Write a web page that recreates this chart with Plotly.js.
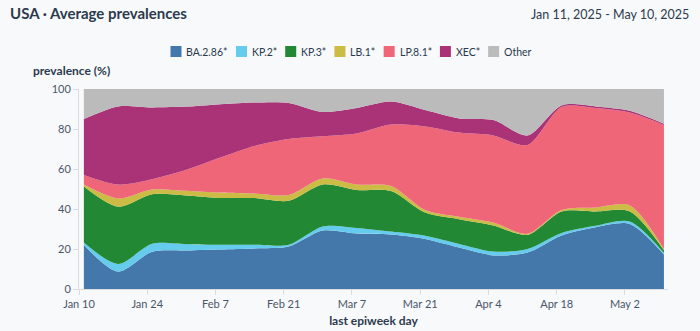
<!DOCTYPE html>
<html><head><meta charset="utf-8">
<script src="https://cdn.plot.ly/plotly-3.0.1.min.js"></script>
<style>html,body{margin:0;padding:0;background:#f7f9fb;}#chart{width:700px;height:331px;}</style>
</head><body><div id="chart"></div>
<script>
// ---- data ----
const dates = ['2025-01-11','2025-01-18','2025-01-25','2025-02-01','2025-02-08','2025-02-15','2025-02-22','2025-03-01','2025-03-08','2025-03-15','2025-03-22','2025-03-29','2025-04-05','2025-04-12','2025-04-19','2025-04-26','2025-05-03','2025-05-10'];
const seriesNames = ['BA.2.86*','KP.2*','KP.3*','LB.1*','LP.8.1*','XEC*','Other'];
const ba286 = [22, 8.7, 18.6, 19.3, 19.8, 20.3, 21.2, 29.2, 27.7, 27.2, 25, 20.7, 16.8, 18.2, 26.8, 30.9, 32.5, 17.2];
const kp2   = [1.2, 3.8, 4.0, 3.1, 2.3, 1.8, 0.9, 2.1, 2.8, 1.5, 1.6, 1.8, 1.9, 1.8, 1.2, 0.7, 1.2, 0.8];
const kp3   = [28.1, 28.7, 24.8, 24.4, 23.4, 23.4, 22.0, 21.0, 19.0, 20.3, 11.6, 12.4, 13.1, 7.1, 10.8, 7.2, 5.1, 1.4];
const lb1   = [0.9, 4.1, 2.4, 2.3, 2.7, 2.2, 2.9, 3.0, 2.7, 2.5, 1.3, 1.2, 1.4, 0.5, 0.7, 2.0, 3.0, 0.6];
const lp81  = [4.8, 6.9, 5.1, 10.5, 17.5, 23.8, 28.0, 21.1, 25.6, 30.7, 41.8, 42.1, 43.6, 44.4, 51.5, 49.7, 46.4, 62];
const xec   = [28, 39.1, 35.9, 31.6, 26.7, 21.7, 18, 12.1, 12.7, 11.5, 8.2, 7.1, 7.7, 4.8, 0.8, 0.8, 0.9, 0.6];
const other = [15, 8.7, 9.2, 8.8, 7.6, 6.8, 7, 11.5, 9.5, 6.3, 10.5, 14.7, 15.5, 23.2, 8.2, 8.7, 10.9, 17.4];
const tickDates  = ['2025-01-10','2025-01-24','2025-02-07','2025-02-21','2025-03-07','2025-03-21','2025-04-04','2025-04-18','2025-05-02'];
const tickLabels = ['Jan 10','Jan 24','Feb 7','Feb 21','Mar 7','Mar 21','Apr 4','Apr 18','May 2'];
const yTicks = [0, 20, 40, 60, 80, 100];

// ---- styling ----
const seriesValues = [ba286, kp2, kp3, lb1, lp81, xec, other];
const colors = ['#4477AA','#66CCEE','#228833','#CCBB44','#EE6677','#AA3377','#BBBBBB'];
const FONT = 'Lato, "DejaVu Sans", sans-serif';
const TXT = '#2d3a4d';

const traces = seriesNames.map((n, i) => ({
  type: 'scatter', mode: 'lines', name: n, x: dates, y: seriesValues[i],
  stackgroup: 'one', line: {width: 0, shape: 'spline', smoothing: 0.8, color: colors[i]},
  fillcolor: colors[i], hoverinfo: 'x+y+name'
}));

// plot area in pixels
const L = 79, R = 668, T = 89, B = 289;
const px = v => (v - L) / (R - L);
const py = v => (B - v) / (B - T);

// legend built manually
const LEGSIZE = 10.5;
const ctx = document.createElement('canvas').getContext('2d');
ctx.font = LEGSIZE + 'px Lato';
const sw = 11, gapSwText = 3, gapItem = 10;
const widths = seriesNames.map(n => sw + gapSwText + ctx.measureText(n).width);
const total = widths.reduce((a, b) => a + b, 0) + gapItem * (seriesNames.length - 1);
let cx = 350 - total / 2;
const shapes = [], annotations = [];
const legY = 51.5;
seriesNames.forEach((n, i) => {
  shapes.push({type: 'rect', xref: 'paper', yref: 'paper', x0: px(cx), x1: px(cx + sw), y0: py(legY + sw / 2), y1: py(legY - sw / 2), fillcolor: colors[i], line: {width: 0}});
  annotations.push({xref: 'paper', yref: 'paper', x: px(cx + sw + gapSwText), y: py(legY), xanchor: 'left', yanchor: 'middle', text: n, showarrow: false, font: {family: FONT, size: LEGSIZE, color: TXT}});
  cx += widths[i] + gapItem;
});
annotations.push({xref: 'paper', yref: 'paper', x: px(71), y: py(71), xanchor: 'center', yanchor: 'middle', text: 'prevalence (%)', showarrow: false, font: {family: FONT, size: 12, color: TXT, weight: 700}});
annotations.push({xref: 'paper', yref: 'paper', x: px(691), y: py(14), xanchor: 'right', yanchor: 'middle', text: 'Jan 11, 2025 - May 10, 2025', showarrow: false, font: {family: FONT, size: 12.5, color: TXT}});

const layout = {
  width: 700, height: 331,
  paper_bgcolor: '#f7f9fb', plot_bgcolor: '#f7f9fb',
  margin: {l: L, r: 700 - R, t: T, b: 331 - B},
  showlegend: false,
  title: {text: 'USA · Average prevalences', x: 10 / 700, xref: 'container', xanchor: 'left', y: 1 - 14 / 331, yref: 'container', yanchor: 'middle', font: {family: FONT, size: 15, color: TXT, weight: 700}},
  xaxis: {type: 'date', range: ['2025-01-10', '2025-05-10 20:00'], tickvals: tickDates, ticktext: tickLabels,
    showgrid: false, zeroline: false, showline: true, linecolor: '#d9dde3', ticks: 'outside', ticklen: 5, tickcolor: '#d9dde3',
    tickfont: {family: FONT, size: 11, color: '#4a5568'},
    title: {text: 'last epiweek day', standoff: 7, font: {family: FONT, size: 12, color: TXT, weight: 700}}},
  yaxis: {range: [0, 100], tickvals: yTicks, showgrid: false, zeroline: false, showline: true, linecolor: '#d9dde3',
    ticks: 'outside', ticklen: 5, tickcolor: '#d9dde3', tickfont: {family: FONT, size: 11, color: '#4a5568'}},
  shapes: shapes, annotations: annotations,
  font: {family: FONT}
};
Plotly.newPlot('chart', traces, layout, {displayModeBar: false, staticPlot: true});
</script></body></html>
